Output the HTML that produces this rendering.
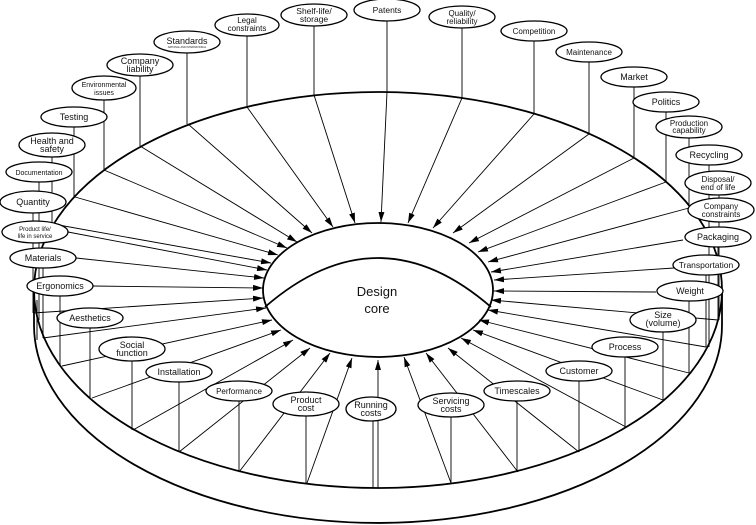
<!DOCTYPE html>
<html><head><meta charset="utf-8"><style>
html,body{margin:0;padding:0;background:#fff}
svg{display:block}
text{font-family:"Liberation Sans",Arial,sans-serif;fill:#111;text-anchor:middle}
</style></head><body>
<svg width="756" height="525" viewBox="0 0 756 525" xmlns="http://www.w3.org/2000/svg">
<defs><marker id="ah" viewBox="0 0 10 6" refX="10" refY="3" markerWidth="10" markerHeight="6" markerUnits="userSpaceOnUse" orient="auto"><path d="M0,0 L10,3 L0,6 z" fill="#000"/></marker></defs>
<g fill="none" stroke="#000" stroke-width="1.8">
<ellipse cx="378" cy="290" rx="344" ry="198" fill="#fff"/>
<path d="M34,290 L34,325 A344,198 0 0 0 722,325 L722,290"/>
<line x1="37" y1="300" x2="37" y2="340" stroke-width="1"/>
</g>
<g stroke="#000" stroke-width="0.9" fill="none">
<!-- verticals -->
<path d="M74,127V197 M52,157V224 M39,182V192 M33,213V313 M39,212V320 M43,268V338 M60,296V366 M90,328V398 M132,361V430 M179,382V452 M239,401V472 M306,416V483 M373,421V488 M451,417V483 M517,401V472 M579,381V452 M625,357V427 M663,332V400 M689,301V373 M706,275V347 M718,247V320 M709,165V347 M719,195V320 M689,138V208 M666,112V182 M634,87V158 M589,62V134 M534,41V114 M462,28V98 M387,21V92 M314,26V95 M247,36V107 M187,53V124 M140,76V146 M104,100V170"/>
</g>
<g stroke="#000" stroke-width="0.9" marker-end="url(#ah)">
<line x1="387" y1="92" x2="381" y2="222"/>
<line x1="314" y1="95" x2="355" y2="223"/>
<line x1="247" y1="107" x2="333" y2="227"/>
<line x1="188" y1="124" x2="312" y2="233"/>
<line x1="140" y1="146" x2="297" y2="242"/>
<line x1="104" y1="170" x2="287" y2="248"/>
<line x1="75" y1="197" x2="278" y2="255"/>
<line x1="53" y1="224" x2="271" y2="263"/>
<line x1="68" y1="232" x2="267" y2="270"/>
<line x1="76" y1="258" x2="264" y2="278"/>
<line x1="93" y1="286" x2="263" y2="288"/>
<line x1="33" y1="313" x2="263" y2="298"/>
<line x1="43" y1="338" x2="266" y2="308"/>
<line x1="62" y1="366" x2="272" y2="320"/>
<line x1="92" y1="398" x2="281" y2="330"/>
<line x1="133" y1="430" x2="293" y2="340"/>
<line x1="179" y1="452" x2="310" y2="348"/>
<line x1="239" y1="472" x2="330" y2="353"/>
<line x1="307" y1="483" x2="352" y2="358"/>
<line x1="378" y1="488" x2="378" y2="360"/>
<line x1="451" y1="483" x2="404" y2="357"/>
<line x1="518" y1="472" x2="426" y2="353"/>
<line x1="579" y1="452" x2="448" y2="348"/>
<line x1="626" y1="427" x2="461" y2="338"/>
<line x1="663" y1="400" x2="473" y2="330"/>
<line x1="689" y1="373" x2="479" y2="320"/>
<line x1="706" y1="347" x2="488" y2="310"/>
<line x1="718" y1="320" x2="491" y2="300"/>
<line x1="656" y1="292" x2="494" y2="291"/>
<line x1="674" y1="268" x2="494" y2="280"/>
<line x1="683" y1="240" x2="491" y2="272"/>
<line x1="689" y1="208" x2="488" y2="262"/>
<line x1="666" y1="182" x2="478" y2="252"/>
<line x1="634" y1="158" x2="469" y2="243"/>
<line x1="589" y1="134" x2="453" y2="233"/>
<line x1="534" y1="114" x2="433" y2="228"/>
<line x1="462" y1="98" x2="408" y2="223"/>
</g>
<g fill="none" stroke="#000" stroke-width="1.8">
<ellipse cx="378" cy="290" rx="115" ry="67"/>
<path d="M265,307 Q378,209 491,307"/>
</g>
<text x="377" y="296" font-size="13">Design</text>
<text x="377" y="313" font-size="13">core</text>
<g fill="#fff" stroke="#000" stroke-width="1.3">
<ellipse cx="74" cy="117" rx="33" ry="10"/>
<ellipse cx="52" cy="145" rx="33" ry="12"/>
<ellipse cx="39" cy="172" rx="33" ry="10"/>
<ellipse cx="33" cy="202" rx="33" ry="11"/>
<ellipse cx="35" cy="232" rx="33" ry="11"/>
<ellipse cx="43" cy="258" rx="33" ry="10"/>
<ellipse cx="60" cy="286" rx="33" ry="10"/>
<ellipse cx="90" cy="318" rx="33" ry="10"/>
<ellipse cx="132" cy="349" rx="33" ry="12"/>
<ellipse cx="179" cy="372" rx="33" ry="10"/>
<ellipse cx="239" cy="391" rx="33" ry="10"/>
<ellipse cx="306" cy="404" rx="33" ry="12"/>
<ellipse cx="371" cy="409" rx="25" ry="12"/>
<ellipse cx="451" cy="405" rx="33" ry="12"/>
<ellipse cx="517" cy="391" rx="33" ry="10"/>
<ellipse cx="579" cy="371" rx="33" ry="10"/>
<ellipse cx="625" cy="347" rx="33" ry="10"/>
<ellipse cx="663" cy="320" rx="33" ry="12"/>
<ellipse cx="690" cy="291" rx="33" ry="10"/>
<ellipse cx="706" cy="265" rx="33" ry="10"/>
<ellipse cx="718" cy="237" rx="33" ry="10"/>
<ellipse cx="721" cy="210" rx="33" ry="12"/>
<ellipse cx="718" cy="183" rx="33" ry="12"/>
<ellipse cx="709" cy="155" rx="33" ry="10"/>
<ellipse cx="689" cy="127" rx="33" ry="11"/>
<ellipse cx="666" cy="102" rx="33" ry="10"/>
<ellipse cx="634" cy="77" rx="33" ry="10"/>
<ellipse cx="589" cy="52" rx="33" ry="10"/>
<ellipse cx="534" cy="31" rx="33" ry="10"/>
<ellipse cx="462" cy="17" rx="33" ry="11"/>
<ellipse cx="387" cy="10" rx="33" ry="11"/>
<ellipse cx="314" cy="15" rx="33" ry="11"/>
<ellipse cx="247" cy="25" rx="32" ry="11"/>
<ellipse cx="187" cy="42" rx="33" ry="11"/>
<ellipse cx="140" cy="65" rx="33" ry="11"/>
<ellipse cx="104" cy="88" rx="32" ry="12"/>
</g>
<g font-size="9">
<text x="74" y="120">Testing</text>
<text x="52" y="144">Health and</text><text x="52" y="152">safety</text>
<text x="39" y="175" font-size="7">Documentation</text>
<text x="33" y="205">Quantity</text>
<text x="35" y="231" font-size="6">Product life/</text><text x="35" y="238" font-size="6">life in service</text>
<text x="43" y="261">Materials</text>
<text x="60" y="289">Ergonomics</text>
<text x="90" y="321">Aesthetics</text>
<text x="132" y="348">Social</text><text x="132" y="356">function</text>
<text x="179" y="375">Installation</text>
<text x="239" y="394" font-size="8">Performance</text>
<text x="306" y="403">Product</text><text x="306" y="411">cost</text>
<text x="371" y="408">Running</text><text x="371" y="416">costs</text>
<text x="451" y="404">Servicing</text><text x="451" y="412">costs</text>
<text x="517" y="394">Timescales</text>
<text x="579" y="374">Customer</text>
<text x="625" y="350">Process</text>
<text x="663" y="318">Size</text><text x="663" y="326">(volume)</text>
<text x="690" y="294">Weight</text>
<text x="706" y="268" font-size="8.5">Transportation</text>
<text x="718" y="240">Packaging</text>
<text x="721" y="209" font-size="8">Company</text><text x="721" y="217" font-size="8">constraints</text>
<text x="718" y="182" font-size="8">Disposal/</text><text x="718" y="190" font-size="8">end of life</text>
<text x="709" y="158">Recycling</text>
<text x="689" y="126" font-size="8">Production</text><text x="689" y="133" font-size="8">capability</text>
<text x="666" y="105">Politics</text>
<text x="634" y="80">Market</text>
<text x="589" y="55" font-size="8">Maintenance</text>
<text x="534" y="34" font-size="8">Competition</text>
<text x="462" y="16" font-size="8">Quality/</text><text x="462" y="24" font-size="8">reliability</text>
<text x="387" y="13" font-size="8.5">Patents</text>
<text x="314" y="14" font-size="8.5">Shelf-life/</text><text x="314" y="22" font-size="8.5">storage</text>
<text x="247" y="23" font-size="8">Legal</text><text x="247" y="31" font-size="8">constraints</text>
<text x="187" y="44">Standards</text><text x="187" y="48" font-size="2.5">NATIONAL AND INTERNATIONAL</text>
<text x="140" y="64">Company</text><text x="140" y="72">liability</text>
<text x="104" y="87" font-size="7">Environmental</text><text x="104" y="95" font-size="7">issues</text>
</g>
</svg>
</body></html>
